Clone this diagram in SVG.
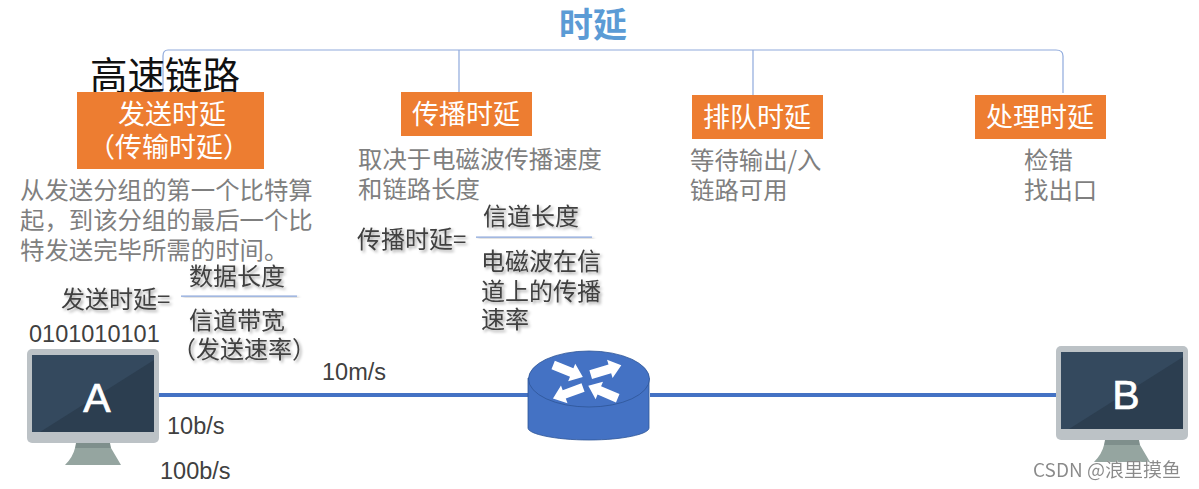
<svg xmlns="http://www.w3.org/2000/svg" width="1199" height="489" viewBox="0 0 1199 489">
<defs>
<filter id="sh" x="-20%" y="-20%" width="150%" height="160%"><feDropShadow dx="2" dy="2" stdDeviation="1.6" flood-color="#000" flood-opacity="0.35"/></filter>
<filter id="wm" x="-5%" y="-20%" width="110%" height="140%"><feDropShadow dx="0.5" dy="0.5" stdDeviation="0.4" flood-color="#fff" flood-opacity="0.8"/></filter>
<g id="pc">
<rect x="0" y="0" width="132" height="94" rx="5" fill="#bcc2c6"/>
<rect x="5" y="6" width="122" height="77" fill="#2c3e50"/>
<path d="M5 6H127V11L13 83H5Z" fill="#34495e"/>
<path d="M49 94H83L84 99H48Z" fill="#7f8f8c"/>
<path d="M48 99H84L94 116H38Q46 108 48 99Z" fill="#95a5a0"/>
</g>
<path id="arr" d="M-16 -4.500H4V-9.500L16 0L4 9.500V4.500H-16Z" fill="#fff"/>
</defs>
<style>
text{font-family:"Liberation Sans","Noto Sans CJK SC",sans-serif}
.cjk{font-family:"Noto Sans CJK SC","Liberation Sans",sans-serif}
.g{font-size:24.400px;fill:#7f7f7f}
.w{font-size:27px;fill:#fff;text-anchor:middle}
.o{fill:#ed7d31}
.d{font-size:24px;fill:#404040;filter:url(#sh)}
.l{font-size:23.500px;fill:#404040}
.b{fill:none;stroke:#8faadc;stroke-width:1.2}
.link{stroke:#4472c4;stroke-width:4;fill:none}
.fr{fill:#8faadc;filter:url(#sh)}
.m{font-size:41px;fill:#fff;stroke:#fff;stroke-width:0.7;text-anchor:middle}
</style>
<g id="connectors">
<path class="b" d="M163 91V56Q163 50 168 50H1056Q1063 50 1063 56V93"/>
<path class="b" d="M459 50V92M753 50V95"/>
<path class="link" d="M158 395H528M650 395H1056"/>
<rect class="fr" x="181" y="295.500" width="116" height="1.300"/>
<rect class="fr" x="476" y="236.500" width="116" height="1.300"/>
</g>
<g id="title"><text class="cjk" x="593" y="37" font-size="34" font-weight="700" fill="#5b9bd5" text-anchor="middle">时延</text></g>
<g id="highspeed"><text class="cjk" x="165" y="89" font-size="37.500" fill="#111" text-anchor="middle">高速链路</text></g>
<g id="n-send">
<rect class="o" x="77" y="92" width="187" height="77"/>
<text class="cjk w" x="172" y="124">发送时延</text>
<text class="cjk w" x="169" y="157">（传输时延）</text>
<text class="cjk g" x="20" y="199">从发送分组的第一个比特算</text>
<text class="cjk g" x="20" y="229">起，到该分组的最后一个比</text>
<text class="cjk g" x="20" y="259">特发送完毕所需的时间。</text>
</g>
<g id="n-prop">
<rect class="o" x="401" y="92" width="131" height="44"/>
<text class="cjk w" x="466" y="124">传播时延</text>
<text class="cjk g" x="358" y="168">取决于电磁波传播速度</text>
<text class="cjk g" x="358" y="198">和链路长度</text>
</g>
<g id="n-queue">
<rect class="o" x="692" y="95" width="131" height="44"/>
<text class="cjk w" x="757" y="127">排队时延</text>
<text class="cjk g" x="690" y="169">等待输出/入</text>
<text class="cjk g" x="690" y="199">链路可用</text>
</g>
<g id="n-proc">
<rect class="o" x="975" y="95" width="131" height="44"/>
<text class="cjk w" x="1040" y="127">处理时延</text>
<text class="cjk g" x="1024" y="169">检错</text>
<text class="cjk g" x="1024" y="199">找出口</text>
</g>
<g id="f-send">
<text class="cjk d" x="61" y="308">发送时延=</text>
<text class="cjk d" x="189" y="285">数据长度</text>
<text class="cjk d" x="189" y="329">信道带宽</text>
<text class="cjk d" x="172" y="358">（发送速率）</text>
</g>
<g id="f-prop">
<text class="cjk d" x="357" y="248">传播时延=</text>
<text class="cjk d" x="483" y="225">信道长度</text>
<text class="cjk d" x="481" y="270">电磁波在信</text>
<text class="cjk d" x="481" y="300">道上的传播</text>
<text class="cjk d" x="481" y="328">速率</text>
</g>
<g id="pc-a">
<use href="#pc" x="27" y="349"/>
<text class="m" x="97" y="412">A</text>
</g>
<g id="pc-b">
<use href="#pc" x="1056" y="346"/>
<text class="m" x="1126" y="409">B</text>
</g>
<g id="router">
<path d="M528 378V428C528 434 555 440 589 440S649 434 649 428V378Z" fill="#4472c4" stroke="#2f5597" stroke-width="0.8"/>
<ellipse cx="589" cy="379" rx="60.500" ry="28" fill="#4472c4" stroke="#2f5597" stroke-width="0.8"/>
<use href="#arr" transform="translate(568 371) rotate(22)"/>
<use href="#arr" transform="translate(606 370) rotate(-17)"/>
<use href="#arr" transform="translate(568 393) rotate(160)"/>
<use href="#arr" transform="translate(603 392) rotate(203)"/>
</g>
<g id="labels">
<text class="l" x="29" y="342">0101010101</text>
<text class="l" x="322" y="380">10m/s</text>
<text class="l" x="167" y="434">10b/s</text>
<text class="l" x="160" y="479">100b/s</text>
</g>
<g id="watermark"><text class="cjk" x="1033" y="477" font-size="19" fill="#8a8a8a" filter="url(#wm)">CSDN @浪里摸鱼</text></g>
</svg>
